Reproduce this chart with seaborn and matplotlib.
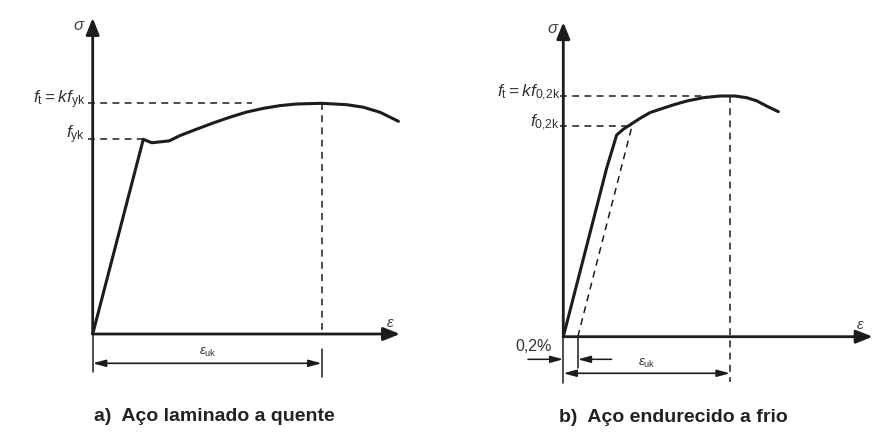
import matplotlib
matplotlib.use("Agg")
import matplotlib.pyplot as plt
from matplotlib.patches import ArrowStyle
import numpy as np
import pandas as pd
import seaborn as sns

# ---- data (schematic stress-strain diagrams, stress in % of f_t, strain in arbitrary units) ----
# a) hot-rolled steel
eps_hot = [0.0, 2.21, 2.58, 3.34, 3.81, 4.54, 5.27, 6.00, 6.72, 7.45, 8.18,
           8.91, 10.0, 11.09, 11.82, 12.55, 13.35]
sig_hot = [0.0, 84.4, 82.9, 83.7, 86.0, 88.8, 91.5, 94.0, 96.2, 97.8, 99.0,
           99.7, 100.0, 99.4, 98.3, 96.1, 92.2]
f_t_hot = 100.0
f_yk = 84.4
eps_uk_hot = 10.0

# b) cold-worked steel
eps_cold = [0.0, 2.60, 3.20, 3.60, 4.00, 4.60, 5.20, 5.80, 6.60, 7.40, 8.40,
            9.40, 10.3, 11.0, 11.6, 12.2, 12.9]
sig_cold = [0.0, 70.0, 83.8, 86.2, 88.0, 90.7, 93.1, 94.5, 96.3, 97.9, 99.3,
            100.0, 100.0, 99.3, 98.0, 95.8, 93.5]
f_t_cold = 100.0
f_02k = 87.5
eps_uk_cold = 10.0
offset_02 = 0.87

label_ft_hot = r"$f_{\rm t} = kf_{\rm yk}$"
label_fyk = r"$f_{\rm yk}$"
label_ft_cold = r"$f_{\rm t} = kf_{\rm 0{,}2k}$"
label_f02 = r"$f_{\rm 0{,}2k}$"
label_eps_uk = r"$\varepsilon_{\rm uk}$"
label_offset = "0,2%"
titles = ["a)  Aço laminado a quente", "b)  Aço endurecido a frio"]

# ---- style ----
sns.set_theme(style="white")
plt.rcParams["font.family"] = ["Liberation Sans", "DejaVu Sans"]
plt.rcParams["mathtext.fontset"] = "custom"
plt.rcParams["mathtext.it"] = "Liberation Sans:italic"
plt.rcParams["mathtext.rm"] = "Liberation Sans"
plt.rcParams["mathtext.bf"] = "Liberation Sans:bold"

INK = "#1c1c1c"
W, H = 887, 432
fig = plt.figure(figsize=(W / 100, H / 100), dpi=100)
fig.patch.set_facecolor("white")


def make_axes(px_left, px_right, x0, y0, sx, sy):
    """Axes spanning a pixel column, data origin at pixel (x0, y0), sx/sy px per unit."""
    ax = fig.add_axes([px_left / W, 0, (px_right - px_left) / W, 1])
    ax.set_xlim((px_left - x0) / sx, (px_right - x0) / sx)
    ax.set_ylim((y0 - H) / sy, y0 / sy)
    ax.set_axis_off()
    return ax


axis_head = ArrowStyle("-|>", head_length=1.0, head_width=0.4)
dim_head = ArrowStyle("<|-|>", head_length=1.1, head_width=0.3)
one_head = ArrowStyle("-|>", head_length=1.1, head_width=0.3)
dash = (0, (4.5, 3.5))


def arrow(ax, start, end, style, lw, scale):
    ax.annotate("", xy=end, xytext=start,
                arrowprops=dict(arrowstyle=style, color=INK, lw=lw,
                                shrinkA=0, shrinkB=0, mutation_scale=scale))


def frame(ax, xmax, ymax, sigma_pos, eps_pos):
    arrow(ax, (0, 0), (0, ymax), axis_head, 2.0, 10)
    arrow(ax, (0, 0), (xmax, 0), axis_head, 2.0, 10)
    ax.text(*sigma_pos, "σ", style="italic", fontsize=12, color="#444",
            ha="center", va="center")
    ax.text(*eps_pos, "ε", style="italic", fontsize=11, color="#444",
            ha="center", va="center")


def curve(ax, x, y):
    sns.lineplot(x=x, y=y, ax=ax, color=INK, lw=2.2, sort=False,
                 estimator=None, solid_joinstyle="round",
                 solid_capstyle="round")


# ---------------- a) hot-rolled ----------------
axL = make_axes(0, 443.5, 92.7, 334.0, 22.9, 2.307)
frame(axL, 13.42, 137.0, (-0.62, 133.9), (13.0, 4.8))
curve(axL, eps_hot, sig_hot)
axL.plot([-0.2, 6.95], [f_t_hot, f_t_hot], color=INK, lw=1.1, ls=dash)
axL.plot([-0.2, eps_hot[1]], [f_yk, f_yk], color=INK, lw=1.1, ls=dash)
axL.plot([eps_uk_hot, eps_uk_hot], [f_t_hot, 0], color=INK, lw=1.1, ls=dash)
axL.plot([eps_uk_hot, eps_uk_hot], [-6.5, -18.5], color=INK, lw=1.1)
axL.plot([0, 0], [0, -16.3], color=INK, lw=1.1)
arrow(axL, (0, -12.7), (eps_uk_hot, -12.7), dim_head, 1.2, 7)
axL.text(-0.33, 101.5, label_ft_hot, fontsize=12.5, color="#333",
         ha="right", va="center")
axL.text(-0.33, 86.3, label_fyk, fontsize=12.5, color="#333",
         ha="right", va="center")
axL.text(5.04, -8.1, label_eps_uk, fontsize=9.5, color="#333",
         ha="center", va="center")
axL.text(5.31, -35.8, titles[0], fontsize=14, fontweight="bold", color="#222",
         ha="center", va="center")

# ---------------- b) cold-worked ----------------
axR = make_axes(443.5, 887, 563.3, 336.7, 16.67, 2.407)
frame(axR, 18.56, 130.7, (-0.68, 128.2), (17.8, 4.9))
curve(axR, eps_cold, sig_cold)
# 0.2 % offset line parallel to the elastic branch
slope = sig_cold[1] / eps_cold[1]
x_02 = offset_02 + f_02k / slope
axR.plot([offset_02, x_02], [0, f_02k], color=INK, lw=1.1, ls=dash)
axR.plot([-0.2, 8.6], [f_t_cold, f_t_cold], color=INK, lw=1.1, ls=dash)
axR.plot([-0.2, x_02], [f_02k, f_02k], color=INK, lw=1.1, ls=dash)
axR.plot([eps_uk_cold, eps_uk_cold], [f_t_cold, -19.0], color=INK, lw=1.1, ls=dash)
axR.plot([0, 0], [0, -19.1], color=INK, lw=1.1)
axR.plot([offset_02, offset_02], [0, -13.0], color=INK, lw=1.1)
arrow(axR, (-2.12, -9.4), (0, -9.4), one_head, 1.1, 7)
arrow(axR, (2.9, -9.4), (offset_02, -9.4), one_head, 1.1, 7)
arrow(axR, (0, -15.2), (eps_uk_cold, -15.2), dim_head, 1.2, 7)
axR.text(-0.2, 101.2, label_ft_cold, fontsize=12.5, color="#333",
         ha="right", va="center")
axR.text(-0.2, 89.0, label_f02, fontsize=12.5, color="#333",
         ha="right", va="center")
axR.text(-1.8, -4.15, label_offset, fontsize=11.5, color="#333",
         ha="center", va="center")
axR.text(5.0, -11.0, label_eps_uk, fontsize=9.5, color="#333",
         ha="center", va="center")
axR.text(6.6, -33.4, titles[1], fontsize=14, fontweight="bold", color="#222",
         ha="center", va="center")

fig.savefig("out.png", dpi=100, facecolor="white")
